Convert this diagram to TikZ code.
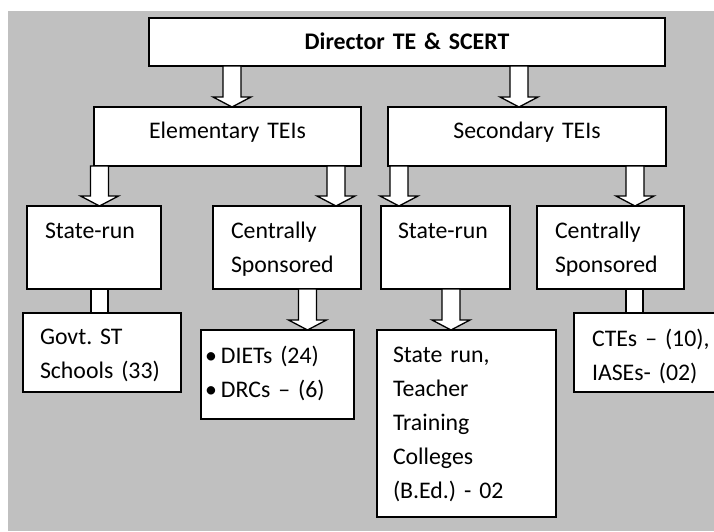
\documentclass[tikz,border=0pt]{standalone}
\usepackage{fontspec}
\setmainfont[WordSpace=0.8]{Carlito}
\usetikzlibrary{calc}
\definecolor{bggrey}{RGB}{192,192,192}
\frenchspacing

% white block arrow: x centre, upper node, lower node
\newcommand{\downblock}[3]{%
  \draw[blockarr] let \p1=(#2.south), \p2=(#3.north) in
    (#1pt-9pt,\y1) -- (#1pt+9pt,\y1) -- (#1pt+9pt,\y2+10pt) -- (#1pt+19pt,\y2+10pt)
    -- (#1pt,\y2) -- (#1pt-19pt,\y2+10pt) -- (#1pt-9pt,\y2+10pt) -- cycle;}
% white bar with no head
\newcommand{\plainlink}[3]{%
  \draw[blockarr] let \p1=(#2.south), \p2=(#3.north) in
    (#1pt-8.5pt,\y1) rectangle (#1pt+8.5pt,\y2);}

\begin{document}
\begin{tikzpicture}[
        x=1pt, y=1pt,
        every node/.style={font=\fontsize{23.8}{34}\selectfont},
        box/.style={draw, fill=white, line width=1.3pt, inner ysep=0pt, inner xsep=18pt,
            outer sep=0pt, anchor=north west, align=left},
        blockarr/.style={draw, fill=white, line width=1.3pt, line join=miter},
    ]
    \useasboundingbox (0,0) rectangle (714,-531);
    \clip (0,0) rectangle (714,-531);
    \fill[bggrey] (8,-11) rectangle (714,-531);

    % top levels
    \node[box, align=center, text width=480pt, text height=31pt, text depth=17pt] (dir) at (149,-18) {\bfseries Director TE \& SCERT};
    \node[box, align=center, text width=231pt, text height=31pt, text depth=28pt] (elem) at (94,-107) {Elementary TEIs};
    \node[box, align=center, text width=242pt, text height=31pt, text depth=28pt] (sec) at (388,-107) {Secondary TEIs};

    % third row
    \node[box, text width=98pt, text height=32pt, text depth=51pt] (stl) at (27,-206) {State-run};
    \node[box, text width=112pt, text height=32pt, text depth=51pt] (cenl) at (213,-206) {Centrally\\Sponsored};
    \node[box, inner xsep=17pt, text width=95pt, text height=32pt, text depth=51pt] (str) at (381,-206) {State-run};
    \node[box, text width=111pt, text height=32pt, text depth=51pt] (cenr) at (537,-206) {Centrally\\Sponsored};

    % bottom row
    \node[box, inner xsep=17pt, text width=124pt, text height=31pt, text depth=48pt] (govt) at (23,-313) {Govt. ST\\Schools (33)};
    \node[box, inner xsep=4pt, text width=145pt, text height=33pt, text depth=56pt] (diets) at (201,-330) {\makebox[16pt][l]{•}DIETs (24)\\\makebox[16pt][l]{•}DRCs – (6)};
    \node[box, inner xsep=16pt, text width=147pt, text height=32pt, text depth=155pt] (ttc) at (377,-330) {State run,\\Teacher\\Training\\Colleges\\(B.Ed.) - 02};
    \node[box, text width=130pt, text height=33pt, text depth=46pt] (ctes) at (574,-313) {CTEs – (10),\\IASEs- (02)};

    % connectors
    \downblock{232}{dir}{elem}
    \downblock{519}{dir}{sec}
    \downblock{99.5}{elem}{stl}
    \downblock{336}{elem}{cenl}
    \downblock{399}{sec}{str}
    \downblock{635}{sec}{cenr}
    \downblock{307.5}{cenl}{diets}
    \downblock{451}{str}{ttc}
    \plainlink{99.5}{stl}{govt}
    \plainlink{634.5}{cenr}{ctes}
\end{tikzpicture}
\end{document}
